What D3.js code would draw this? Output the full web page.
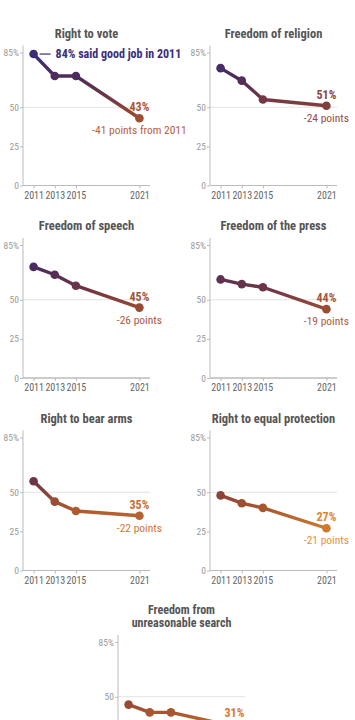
<!DOCTYPE html>
<html>
<head>
<meta charset="utf-8">
<script src="https://cdn.jsdelivr.net/npm/d3@7"></script>
<style>
  html, body { margin: 0; padding: 0; background: #fff; overflow: hidden; }
  svg { display: block; }
  .nf { font-family: "Liberation Sans Narrow", "Roboto Condensed", "Arial Narrow", "Liberation Sans", sans-serif; }
</style>
</head>
<body>
<script>
const categories = ["Right to vote", "Freedom of religion", "Freedom of speech", "Freedom of the press",
  "Right to bear arms", "Right to equal protection", "Freedom from unreasonable search"];
const titleLines = [["Right to vote"], ["Freedom of religion"], ["Freedom of speech"], ["Freedom of the press"],
  ["Right to bear arms"], ["Right to equal protection"], ["Freedom from", "unreasonable search"]];
const years = [2011, 2013, 2015, 2021];
const voteValues = [84, 70, 70, 43];
const religionValues = [75, 67, 55, 51];
const speechValues = [71, 66, 59, 45];
const pressValues = [63, 60, 58, 44];
const armsValues = [57, 44, 38, 35];
const equalValues = [48, 43, 40, 27];
const searchValues = [45, 40, 40, 31];
const seriesValues = [voteValues, religionValues, speechValues, pressValues, armsValues, equalValues, searchValues];
const changeLabels = ["-41 points from 2011", "-24 points", "-26 points", "-19 points", "-22 points", "-21 points", "-14 points"];
const yTicks = [0, 25, 50, 85];
const yTickLabels = ["0", "25", "50", "85%"];
const firstNote = "84% said good job in 2011";

const W = 355, H = 720;
const svg = d3.select("body").append("svg").attr("width", W).attr("height", H);
const defs = svg.append("defs");

// value -> colour
const colorStops = [27, 40, 48, 57, 70, 84];
const colorRange = ["#cc7a2e", "#a8562f", "#8c4438", "#6d3546", "#4d2c5c", "#3a2e7a"];
const color = d3.scaleLinear().domain(colorStops).range(colorRange).clamp(true);

// panel positions (left of y-axis, y of zero)
const panels = [
  {ax: 23, y0: 185.5}, {ax: 210, y0: 185.5},
  {ax: 23, y0: 378}, {ax: 210, y0: 378},
  {ax: 23, y0: 570.5}, {ax: 210, y0: 570.5},
  {ax: 118, y0: 775}
];
const plotH = 133, plotW = 127;
const inView = yy => yy < H - 2;

panels.forEach((p, i) => {
  const g = svg.append("g");
  const x = d3.scaleLinear().domain([2010, 2022]).range([p.ax, p.ax + plotW]);
  const y = d3.scaleLinear().domain([0, 85]).range([p.y0, p.y0 - plotH]);
  const vals = seriesValues[i];
  const data = years.map((yr, k) => ({yr, v: vals[k]}));

  // title (one text element per line)
  const tl = titleLines[i];
  const lh = 13.5;
  const fs = tl.length > 1 ? 12 : 12.5;
  const tTop = y(85) - 15 - (tl.length - 1) * lh;
  tl.forEach((t, k) => {
    g.append("text").attr("class", "nf")
      .attr("x", p.ax + plotW / 2).attr("y", tTop + k * lh)
      .attr("text-anchor", "middle").attr("font-size", fs).attr("font-weight", "bold")
      .attr("fill", "#555").text(t);
  });

  // gridline at 50
  g.append("line").attr("x1", p.ax).attr("x2", p.ax + plotW)
    .attr("y1", y(50)).attr("y2", y(50)).attr("stroke", "#e2e2e2").attr("stroke-width", 1);

  // y axis (only ticks that fall within the picture)
  const yVis = yTicks.filter(t => inView(y(t) + 4));
  const yAxis = d3.axisLeft(y).tickValues(yVis).tickSize(3).tickFormat(d => yTickLabels[yTicks.indexOf(d)]);
  const ya = g.append("g").attr("transform", `translate(${p.ax},0)`).call(yAxis);
  ya.select(".domain").attr("d", `M0,${y(0)}V${y(85) - 7}`).attr("stroke", "#bbb");
  ya.selectAll(".tick line").attr("stroke", "#bbb");
  ya.selectAll(".tick text").attr("class", "nf").attr("fill", "#999").attr("font-size", 9.5).attr("x", -4);

  // x axis
  const xa = g.append("g").attr("transform", `translate(0,${y(0)})`);
  xa.append("path").attr("d", `M${p.ax},0H${p.ax + plotW}`).attr("stroke", "#bbb").attr("fill", "none");
  if (inView(y(0) + 16)) {
    const xAxis = d3.axisBottom(x).tickValues(years).tickSize(3).tickFormat(d3.format("d"));
    xa.call(xAxis);
    xa.select(".domain").attr("d", `M${p.ax},0H${p.ax + plotW}`).attr("stroke", "#bbb");
    xa.selectAll(".tick line").attr("stroke", "#bbb");
    xa.selectAll(".tick text").attr("class", "nf").attr("fill", "#666").attr("font-size", 10).attr("y", 6);
  }

  // gradient
  const gid = "grad" + i;
  const grad = defs.append("linearGradient").attr("id", gid)
    .attr("gradientUnits", "userSpaceOnUse")
    .attr("x1", 0).attr("x2", 0).attr("y1", y(colorStops[colorStops.length - 1])).attr("y2", y(colorStops[0]));
  const ySpan = y(colorStops[0]) - y(colorStops[colorStops.length - 1]);
  colorStops.slice().reverse().forEach(v => {
    grad.append("stop").attr("offset", (y(v) - y(colorStops[colorStops.length - 1])) / ySpan).attr("stop-color", color(v));
  });

  const line = d3.line().x(d => x(d.yr)).y(d => y(d.v));
  g.append("path").datum(data).attr("d", line).attr("fill", "none")
    .attr("stroke", `url(#${gid})`).attr("stroke-width", 3.4).attr("stroke-linejoin", "round");
  g.selectAll("circle").data(data).join("circle")
    .attr("cx", d => x(d.yr)).attr("cy", d => y(d.v)).attr("r", 4.3).attr("fill", d => color(d.v));

  const last = data[data.length - 1];
  const lc = d3.color(color(last.v)).brighter(0.25);
  const valY = Math.min(y(last.v) - 7, H - 3);
  g.append("text").attr("class", "nf").attr("x", x(last.yr)).attr("y", valY)
    .attr("text-anchor", "middle").attr("font-size", 12).attr("font-weight", "bold")
    .attr("fill", lc).text(last.v + "%");
  if (inView(y(last.v) + 16)) {
    g.append("text").attr("class", "nf").attr("x", x(last.yr)).attr("y", y(last.v) + 16)
      .attr("text-anchor", "middle").attr("font-size", 11.5)
      .attr("fill", d3.color(color(last.v)).brighter(0.45)).text(changeLabels[i]);
  }

  if (i === 0) {
    const f = data[0];
    g.append("line").attr("x1", x(f.yr) + 6).attr("x2", x(f.yr) + 17)
      .attr("y1", y(f.v)).attr("y2", y(f.v)).attr("stroke", color(f.v)).attr("stroke-width", 1.2);
    g.append("text").attr("class", "nf").attr("x", x(f.yr) + 22).attr("y", y(f.v) + 4)
      .attr("font-size", 12).attr("font-weight", "bold").attr("fill", color(f.v)).text(firstNote);
  }
});
</script>
</body>
</html>
